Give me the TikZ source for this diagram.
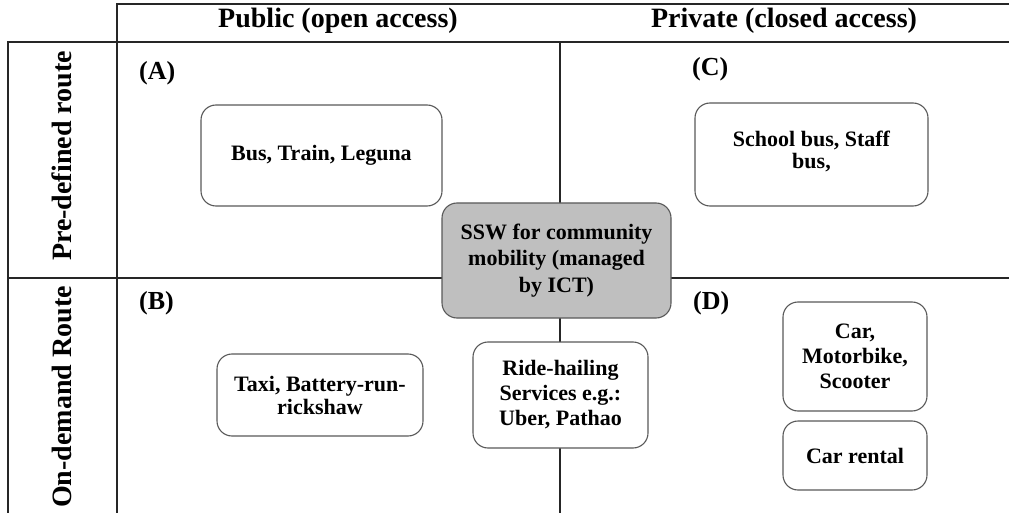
\documentclass[tikz,border=0pt]{standalone}
\usepackage{fontspec}
\setmainfont{Liberation Serif}
\begin{document}
\begin{tikzpicture}[x=1pt,y=-1pt,
  grid/.style={line width=2pt, draw=black!85},
  hdr/.style={font=\fontsize{28}{32}\selectfont\bfseries},
  tag/.style={font=\fontsize{26}{30}\selectfont\bfseries, anchor=west, inner sep=0pt},
  item/.style={draw=black!65, line width=1.1pt, rounded corners=15pt, fill=white,
    align=center, font=\fontsize{22}{25}\selectfont\bfseries, inner sep=0pt},
  hub/.style={item, fill=black!25}]
\useasboundingbox (0,0) rectangle (1009,513);

% table frame
\draw[grid] (117,513) -- (117,4) -- (1009,4);
\draw[grid] (8,513) -- (8,42) -- (1009,42);
\draw[grid] (8,278) -- (1009,278);
\draw[grid] (560,42) -- (560,513);

% column and row headings
\node[hdr] (pub) at (338,21) {Public (open access)};
\node[hdr] (priv) at (784,21) {Private (closed access)};
\node[hdr, rotate=90] (pre) at (62,156) {Pre-defined route};
\node[hdr, rotate=90] (ond) at (62,397) {On-demand Route};

% quadrant tags
\node[tag] (qa) at (139,73) {(A)};
\node[tag] (qb) at (139,303) {(B)};
\node[tag] (qc) at (692,69) {(C)};
\node[tag] (qd) at (693,303) {(D)};

% transport modes
\node[item, minimum width=241pt, minimum height=101pt] (bus) at (321.5,155.5) {Bus, Train, Leguna};
\node[item, minimum width=233pt, minimum height=103pt] (school) at (811.5,154.5) {School bus, Staff\\[-3pt]bus,\\[-15pt]};
\node[item, minimum width=206pt, minimum height=82pt] (taxi) at (320,395) {Taxi, Battery-run-\\[-2pt]rickshaw};
\node[item, minimum width=175pt, minimum height=106pt] (ride) at (560.5,395) {Ride-hailing\\Services e.g.:\\Uber, Pathao};
\node[item, minimum width=144pt, minimum height=109pt] (car) at (855,356.5) {Car,\\Motorbike,\\Scooter};
\node[item, minimum width=144pt, minimum height=69pt] (rental) at (855,455.5) {Car rental};

% central platform
\node[hub, minimum width=229pt, minimum height=115pt, font=\fontsize{22}{26.5}\selectfont\bfseries] (ssw) at (556.5,260.5) {SSW for community\\mobility (managed\\by ICT)};
\end{tikzpicture}
\end{document}
